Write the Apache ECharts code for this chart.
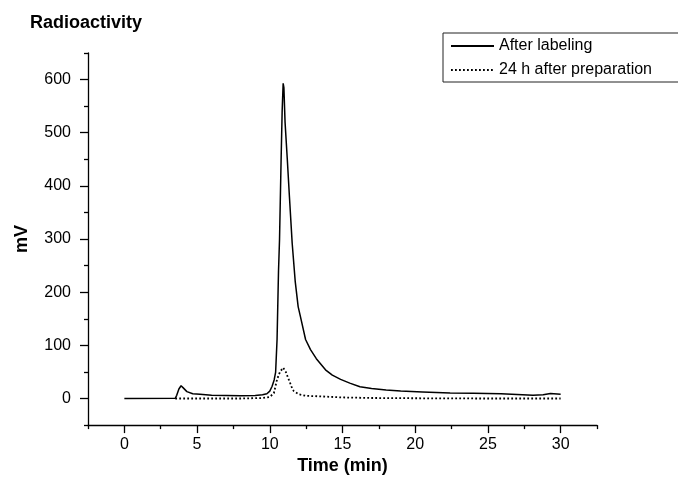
<!DOCTYPE html>
<html>
<head>
<meta charset="utf-8">
<script src="https://cdn.jsdelivr.net/npm/echarts@6/dist/echarts.min.js"></script>
<style>html,body{margin:0;padding:0;background:#fff}#c{width:678px;height:480px}</style>
</head>
<body>
<div id="c"></div>
<script>
// Time (min) and signal (mV) for the trace "After labeling"
var timeAfterLabeling = [0, 3.5, 3.6, 3.75, 3.9, 4.05, 4.3, 4.7, 5.2, 6, 7, 8, 9, 9.5, 9.8, 10.0, 10.16, 10.3, 10.4, 10.5, 10.6, 10.67, 10.78, 10.85, 10.92, 10.97, 11.05, 11.2, 11.35, 11.54, 11.75, 11.95, 12.1, 12.46, 12.8, 13.2, 13.5, 13.83, 14.3, 14.87, 15.5, 16.2, 17, 18, 19, 20.5, 22.4, 24, 25.9, 27, 28.1, 28.8, 29.3, 30];
var mvAfterLabeling = [0, 0.5, 6, 18, 24, 20, 13, 9, 8, 6, 5.5, 5, 5.5, 7, 9, 14, 23, 35, 49, 111, 240, 299, 452, 540, 593, 585, 520, 452, 380, 292, 220, 173, 155, 111, 92, 75, 65, 54, 44, 36, 29, 22, 19, 16, 14, 12.5, 10.6, 10, 8.8, 7.5, 6.3, 7, 9.4, 8];

// Time (min) and signal (mV) for the trace "24 h after preparation"
var time24h = [3.5, 5, 8, 9.5, 10.0, 10.28, 10.5, 10.7, 10.92, 11.1, 11.3, 11.5, 11.65, 12, 12.5, 13.5, 15, 17, 20, 25, 30];
var mv24h = [0, 0, 0, 1, 3, 10, 36, 50, 58, 50, 36, 22, 14, 8, 5, 4, 2, 1, 0.5, 0, 0];

var seriesNames = ['After labeling', '24 h after preparation'];

// Tick values
var xMajorTicks = [0, 5, 10, 15, 20, 25, 30];
var xMinorTicks = [-2.5, 2.5, 7.5, 12.5, 17.5, 22.5, 27.5, 32.5];
var yMajorTicks = [0, 100, 200, 300, 400, 500, 600];
var yMinorTicks = [-50, 50, 150, 250, 350, 450, 550, 650];

function pairs(t, v) { return t.map(function (x, i) { return [x, v[i]]; }); }

var FONT = '"Liberation Sans", Arial, sans-serif';
var chart = echarts.init(document.getElementById('c'));
var axisCommon = {
  axisLine: { show: true, onZero: false, lineStyle: { color: '#000', width: 1.3 } },
  splitLine: { show: false }
};
chart.setOption({
  animation: false,
  backgroundColor: '#fff',
  title: {
    text: 'Radioactivity', left: 25, top: 9,
    textStyle: { fontFamily: FONT, fontSize: 18, fontWeight: 'bold', color: '#000' }
  },
  legend: {
    orient: 'vertical', left: 443, top: 33,
    padding: [5, 30, 4, 7],
    borderColor: '#222', borderWidth: 1,
    itemWidth: 43, itemHeight: 16, itemGap: 8,
    itemStyle: { opacity: 0 },
    textStyle: { fontFamily: FONT, fontSize: 16, color: '#000' },
    data: seriesNames
  },
  grid: { left: 88, right: 81, top: 53, bottom: 53.5, containLabel: false },
  xAxis: [
    Object.assign({}, axisCommon, {
      type: 'value', min: -2.5, max: 32.5, position: 'bottom',
      name: 'Time (min)', nameLocation: 'middle', nameGap: 31,
      nameTextStyle: { fontFamily: FONT, fontSize: 18, fontWeight: 'bold', color: '#000' },
      axisTick: { show: true, length: 8, customValues: xMajorTicks, lineStyle: { color: '#000', width: 1.3 } },
      axisLabel: { customValues: xMajorTicks, margin: 11, fontFamily: FONT, fontSize: 16, color: '#000' }
    }),
    {
      type: 'value', min: -2.5, max: 32.5, position: 'bottom', gridIndex: 0,
      axisLine: { show: false, onZero: false }, splitLine: { show: false },
      axisTick: { show: true, length: 4, customValues: xMinorTicks, lineStyle: { color: '#000', width: 1.3 } },
      axisLabel: { show: false }
    }
  ],
  yAxis: [
    Object.assign({}, axisCommon, {
      type: 'value', min: -50, max: 650, position: 'left',
      name: 'mV', nameLocation: 'middle', nameGap: 57,
      nameTextStyle: { fontFamily: FONT, fontSize: 18, fontWeight: 'bold', color: '#000' },
      axisTick: { show: true, length: 8, customValues: yMajorTicks, lineStyle: { color: '#000', width: 1.3 } },
      axisLabel: { customValues: yMajorTicks, margin: 17, fontFamily: FONT, fontSize: 16, color: '#000' }
    }),
    {
      type: 'value', min: -50, max: 650, position: 'left', gridIndex: 0,
      axisLine: { show: false, onZero: false }, splitLine: { show: false },
      axisTick: { show: true, length: 4, customValues: yMinorTicks, lineStyle: { color: '#000', width: 1.3 } },
      axisLabel: { show: false }
    }
  ],
  series: [
    {
      name: seriesNames[1], type: 'line', xAxisIndex: 0, yAxisIndex: 0,
      showSymbol: false, symbol: 'none',
      lineStyle: { color: '#000', width: 1.8, type: [1.8, 2.2] },
      itemStyle: { color: '#000' },
      data: pairs(time24h, mv24h)
    },
    {
      name: seriesNames[0], type: 'line', xAxisIndex: 0, yAxisIndex: 0,
      showSymbol: false, symbol: 'none',
      lineStyle: { color: '#000', width: 1.5 },
      itemStyle: { color: '#000' },
      data: pairs(timeAfterLabeling, mvAfterLabeling)
    }
  ]
});
</script>
</body>
</html>
